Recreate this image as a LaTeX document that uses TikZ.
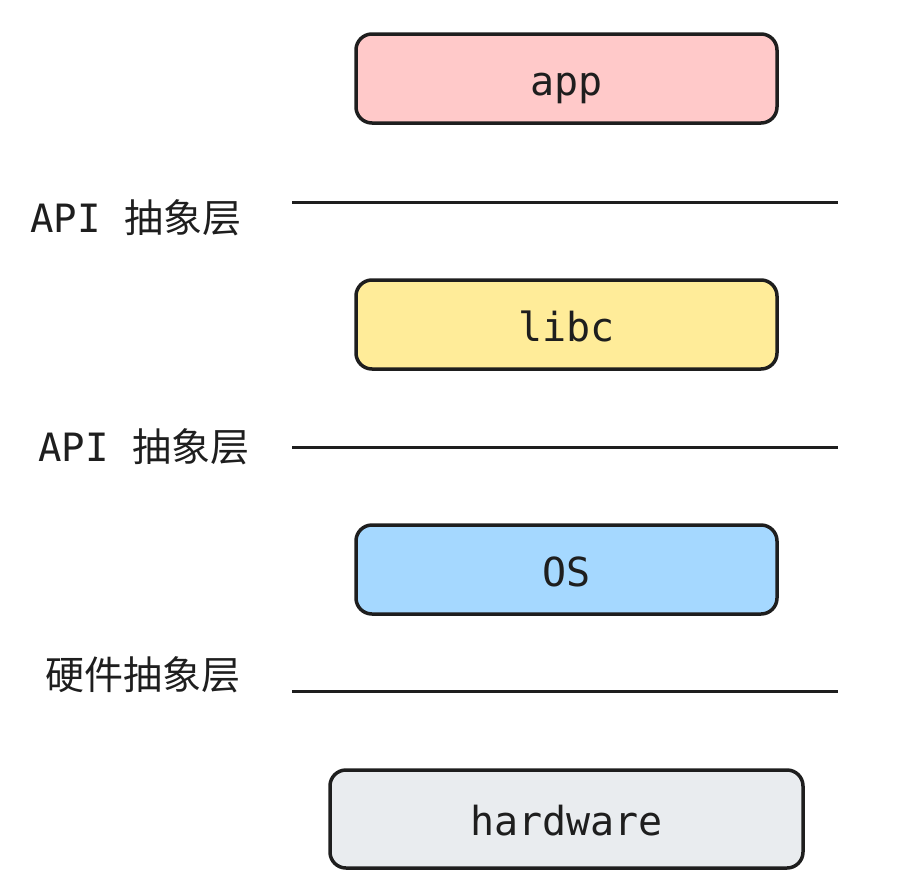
\documentclass[tikz,border=0pt]{standalone}
\usepackage{fontspec}
\setmonofont{DejaVu Sans Mono}
\newfontfamily\cjk{Noto Sans CJK SC}
\definecolor{ink}{HTML}{1E1E1E}
\definecolor{appfill}{HTML}{FFC9C9}
\definecolor{libcfill}{HTML}{FFEC99}
\definecolor{osfill}{HTML}{A5D8FF}
\definecolor{hwfill}{HTML}{E9ECEF}
\tikzset{
  layerbox/.style={draw=ink, line width=3.5pt, rounded corners=16pt},
  boxtext/.style={text=ink, inner sep=0pt, anchor=base, font=\fontsize{40}{48}\selectfont\ttfamily},
  sidelabel/.style={text=ink, inner sep=0pt, anchor=west, font=\fontsize{39}{46}\selectfont},
  divider/.style={draw=ink, line width=3pt},
}
\begin{document}
\begin{tikzpicture}[x=1pt,y=-1pt]
\useasboundingbox (0,0) rectangle (924,892);
% boxes
\draw[layerbox, fill=appfill] (356,34) rectangle (777,123);
\node[boxtext] (app) at (566.5,95) {app};
\draw[layerbox, fill=libcfill] (356,280) rectangle (777,369);
\node[boxtext] (libc) at (566.5,341) {libc};
\draw[layerbox, fill=osfill] (356,525) rectangle (777,614);
\node[boxtext] (os) at (566.5,586) {OS};
\draw[layerbox, fill=hwfill] (330,770) rectangle (803,868);
\node[boxtext] (hw) at (566.5,835.5) {hardware};
% dividers
\coordinate (l1a) at (292,202); \coordinate (l1b) at (838,202);
\coordinate (l2a) at (292,447); \coordinate (l2b) at (838,447);
\coordinate (l3a) at (292,691); \coordinate (l3b) at (838,691);
\draw[divider] (l1a) -- (l1b);
\draw[divider] (l2a) -- (l2b);
\draw[divider] (l3a) -- (l3b);
% labels
\node[sidelabel] (lab1) at (30,218) {\ttfamily API {\cjk 抽象层}};
\node[sidelabel] (lab2) at (38,447) {\ttfamily API {\cjk 抽象层}};
\node[sidelabel] (lab3) at (45,675) {\cjk 硬件抽象层};
\end{tikzpicture}
\end{document}
